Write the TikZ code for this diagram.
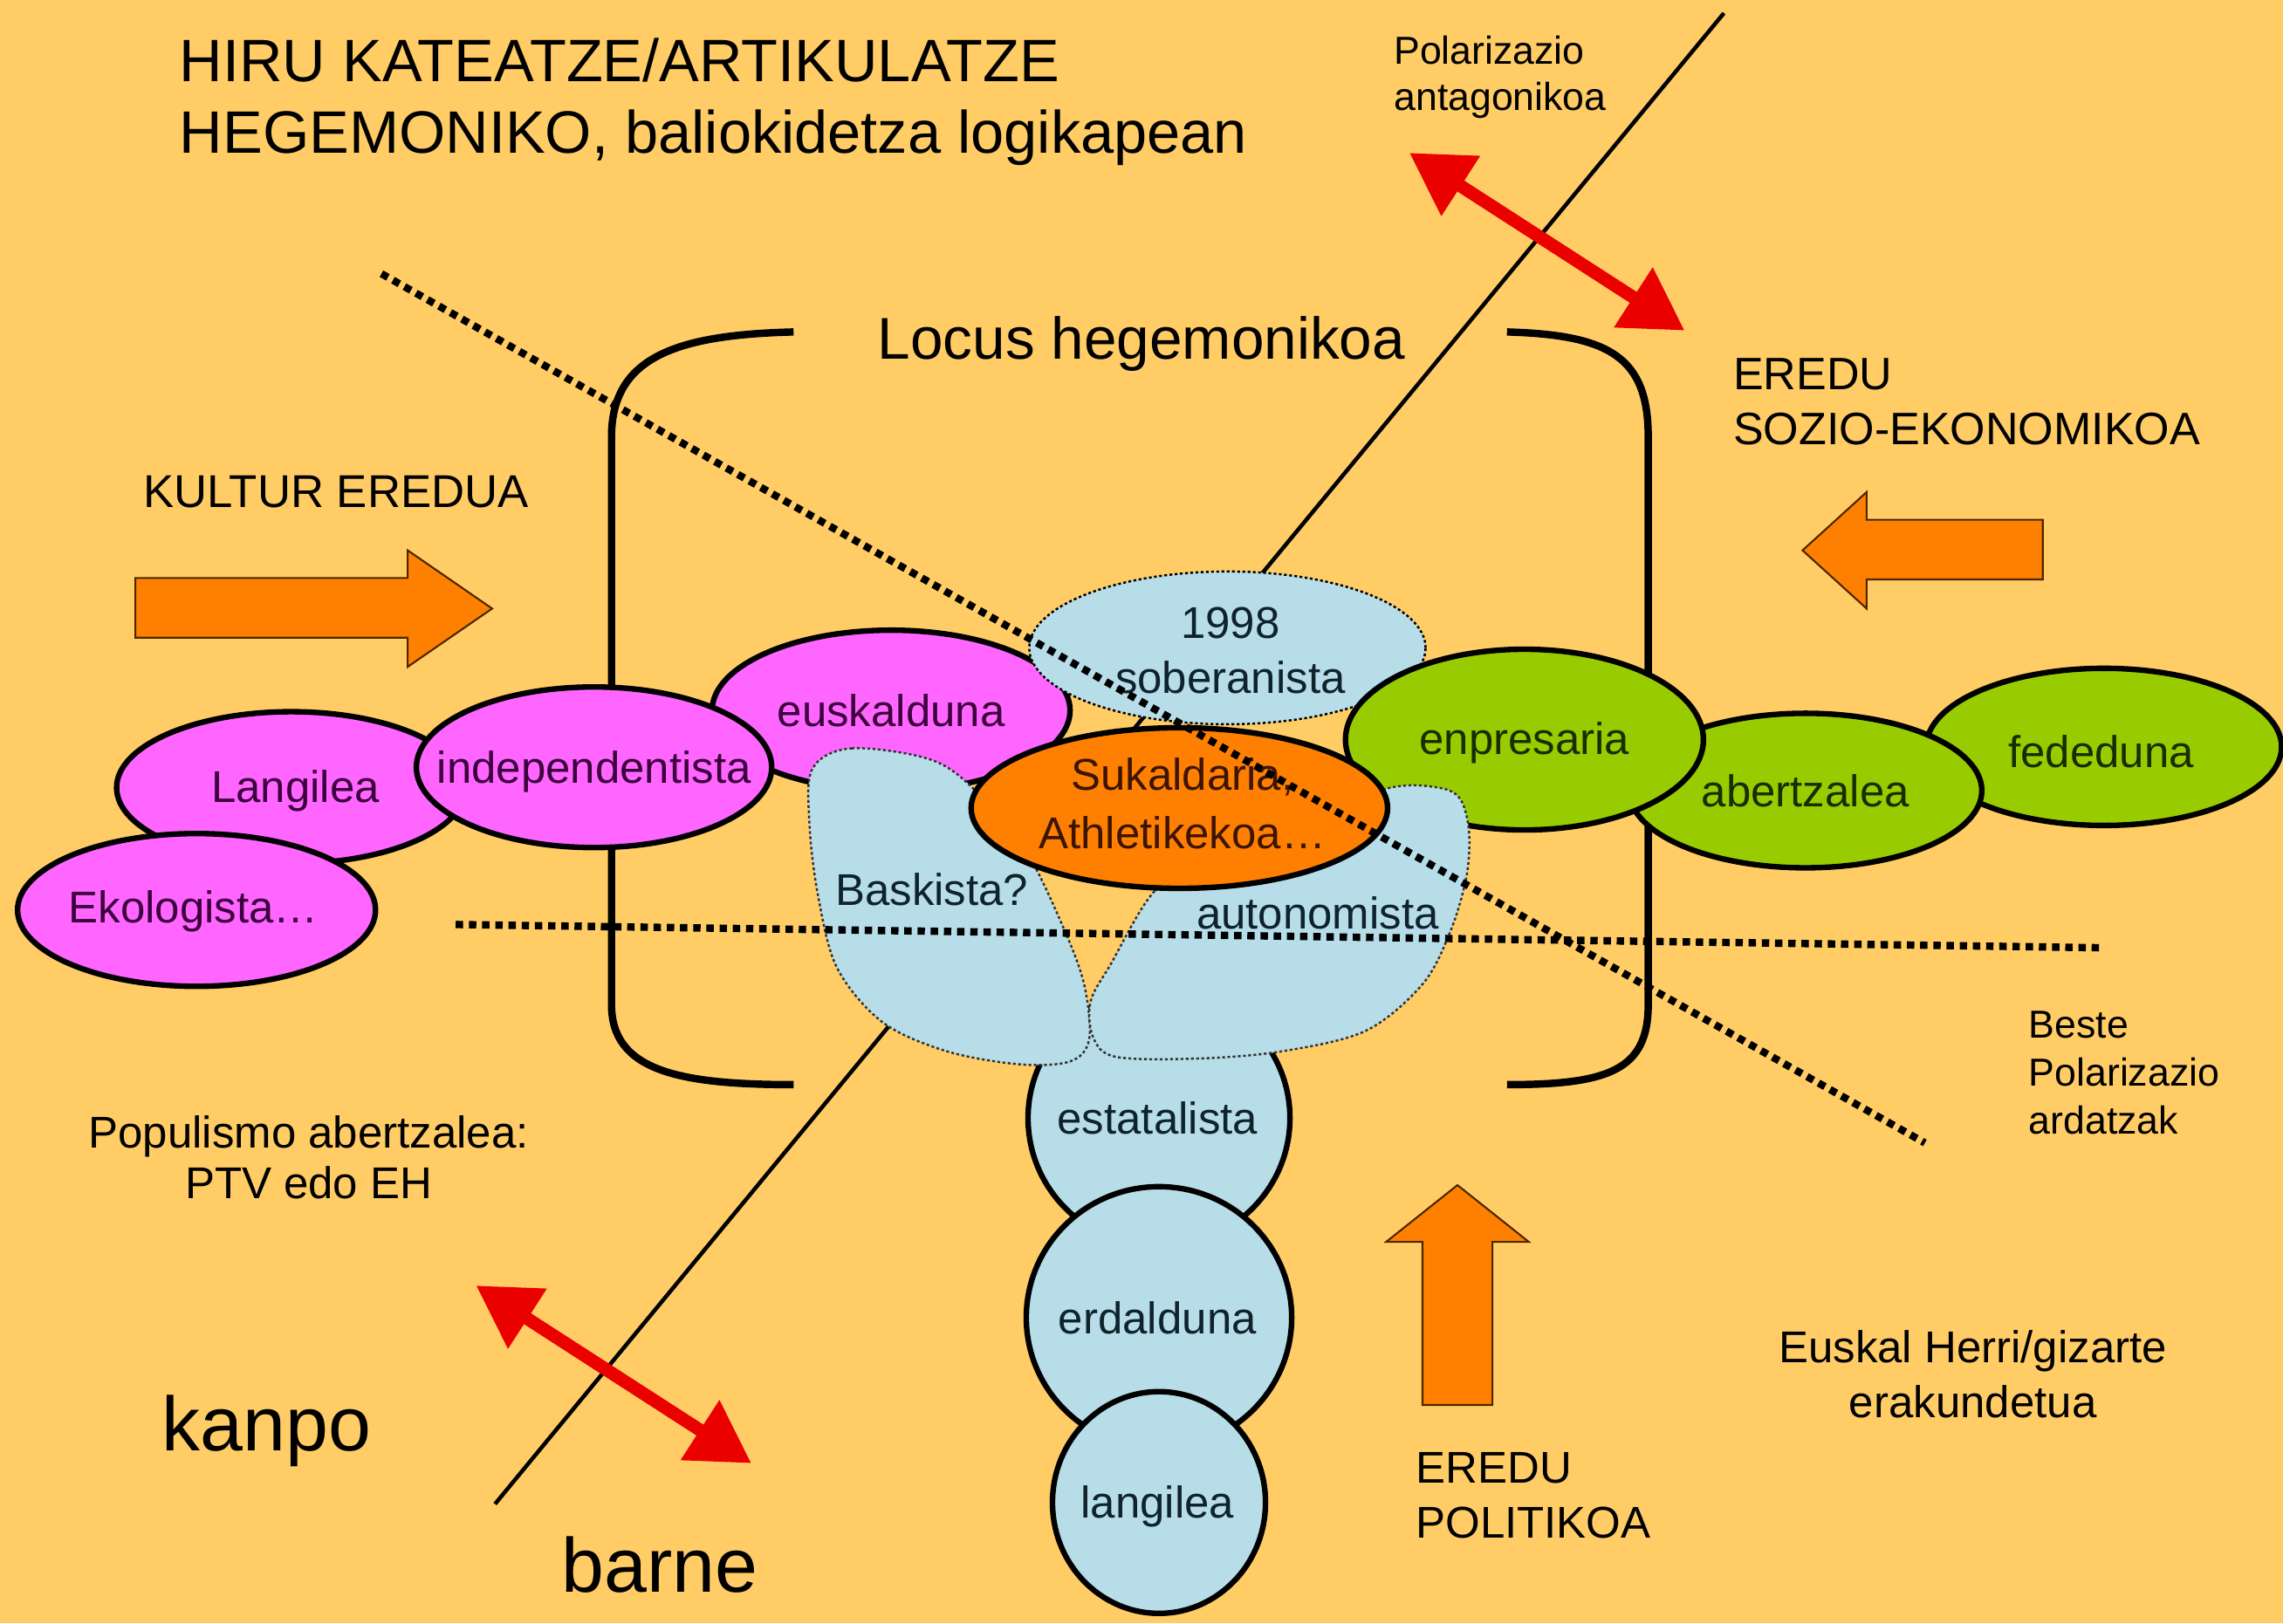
\documentclass[tikz,border=0pt]{standalone}
\usepackage{fontspec}
\setmainfont{Liberation Sans}
\usetikzlibrary{shapes.geometric,arrows.meta,calc}
\definecolor{bgorange}{RGB}{255,204,102}
\definecolor{pinkfill}{RGB}{255,102,255}
\definecolor{bluefill}{RGB}{183,221,232}
\definecolor{greenfill}{RGB}{153,204,0}
\definecolor{orangefill}{RGB}{255,128,0}
\definecolor{redarrow}{RGB}{235,0,0}
\definecolor{pinktext}{RGB}{60,0,60}
\definecolor{greentext}{RGB}{25,45,0}
\definecolor{bluetext}{RGB}{15,35,45}
\definecolor{browntext}{RGB}{60,20,0}
\tikzset{
  ell/.style 2 args={
      ellipse,
      draw,
      line width=1.8pt,
      inner sep=0pt,
      minimum width=#1,
      minimum height=#2
  },
  pinkell/.style 2 args={ell={#1}{#2}, fill=pinkfill},
  greenell/.style 2 args={ell={#1}{#2}, fill=greenfill},
  blueell/.style 2 args={ell={#1}{#2}, fill=bluefill},
  blob/.style={
      fill=bluefill,
      draw=black!80,
      line width=0.7pt,
      dash pattern=on 0.9pt off 0.8pt
  },
  lbl/.style={font=\fontsize{14.5pt}{18pt}\selectfont, inner sep=0pt, align=center},
  big/.style={font=\fontsize{19.5pt}{23.6pt}\selectfont, inner sep=0pt, align=left},
  small/.style={font=\fontsize{12.7pt}{15pt}\selectfont, inner sep=0pt, align=left},
  huge/.style={font=\fontsize{25pt}{30pt}\selectfont, inner sep=0pt},
  bracket/.style={line width=2.4pt},
  dotline/.style={line width=2.4pt, dash pattern=on 2.4pt off 1.9pt},
  polar/.style={
      redarrow,
      line width=4.2pt,
      {Triangle[length=0.7cm,width=0.78cm]}-{Triangle[length=0.7cm,width=0.78cm]}
  },
  block/.style={fill=orangefill, draw=black!70!orangefill, line width=0.6pt}
}

\begin{document}
\begin{tikzpicture}[x=0.016684cm, y=-0.016684cm]
    \fill[bgorange] (0,0) rectangle (1568,1115);
    \useasboundingbox (0,0) rectangle (1568,1115);

    % axis of antagonistic polarization
    \coordinate (axtop) at (1184,9);
    \coordinate (axbot) at (340,1033);
    \draw[line width=1.3pt] (axtop) -- (axbot);

    % hegemonic locus brackets
    \draw[bracket] (545,228) .. controls (465,230) and (420,245) .. (420,300)
        -- (420,690) .. controls (420,735) and (465,745) .. (545,745);
    \draw[bracket] (1035,228) .. controls (1105,230) and (1132,245) .. (1132,300)
        -- (1132,690) .. controls (1132,735) and (1105,745) .. (1035,745);

    % texts
    \node[big, anchor=west] (title) at (123,70)
        {HIRU KATEATZE/ARTIKULATZE\\HEGEMONIKO, baliokidetza logikapean};
    \node[small, anchor=west] (polartxt) at (957,53) {Polarizazio\\antagonikoa};
    \node[big, font=\fontsize{19.2pt}{23.6pt}\selectfont] (locus) at (784,236) {Locus hegemonikoa};
    \node[lbl, align=left, anchor=west, font=\fontsize{14.8pt}{18pt}\selectfont]
        (sozio) at (1190,276) {EREDU\\SOZIO-EKONOMIKOA};
    \node[lbl, anchor=west, font=\fontsize{15pt}{18pt}\selectfont] (kultur) at (98,338) {KULTUR EREDUA};
    \node[small, anchor=west, font=\fontsize{12.7pt}{15.6pt}\selectfont]
        (beste) at (1393,737) {Beste\\Polarizazio\\ardatzak};
    \node[lbl, font=\fontsize{14.5pt}{16.6pt}\selectfont]
        (populismo) at (212,795) {Populismo abertzalea:\\PTV edo EH};
    \node[huge] (kanpo) at (183,983) {kanpo};
    \node[huge] (barne) at (453,1075) {barne};
    \node[lbl] (euskalherri) at (1355,944) {Euskal Herri/gizarte\\erakundetua};
    \node[lbl, align=left, anchor=west] (politiko) at (972,1027) {EREDU\\POLITIKOA};

    % cultural chain
    \node[pinkell={4.00cm}{1.74cm}] (langilea) at (200,541) {};
    \node[pinkell={4.10cm}{1.75cm}] (ekologista) at (135,625) {};
    \node[pinkell={4.10cm}{1.84cm}] (euskalduna) at (612,488) {};
    \node[pinkell={4.07cm}{1.84cm}] (independentista) at (408,527) {};
    \node[ell={4.54cm}{1.75cm}, fill=bluefill, line width=0.7pt,
        dash pattern=on 0.9pt off 0.8pt] (soberanista) at (843,445) {};

    % socio-economic chain
    \node[greenell={4.07cm}{1.80cm}] (fededuna) at (1445,513) {};
    \node[greenell={4.04cm}{1.77cm}] (abertzalea) at (1240,543) {};
    \node[greenell={4.10cm}{2.07cm}] (enpresaria) at (1047,508) {};

    % political chain
    \node[blueell={3.00cm}{2.95cm}] (estatalista) at (796,768) {};
    \node[blueell={3.04cm}{3.00cm}] (erdalduna) at (796,905) {};
    \node[blueell={2.44cm}{2.54cm}] (langileb) at (796,1032) {};

    \draw[blob] plot[smooth cycle, tension=0.55] coordinates {
        (558,528) (585,514) (640,522) (672,545) (705,585) (732,641)
        (745,678) (748,714) (735,729) (700,731) (650,722) (606,702)
        (575,665) (562,616) (556,567)};
    \draw[blob] plot[smooth cycle, tension=0.55] coordinates {
        (830,590) (793,612) (763,662) (749,688) (751,713) (767,726)
        (824,727) (881,722) (938,708) (977,676) (996,640) (1007,603)
        (1009,572) (1003,549) (988,541) (955,541) (900,560)};

    \node[ell={4.77cm}{1.84cm}, fill=orangefill] (sukaldaria) at (810,555) {};

    % chain labels
    \node[lbl, text=pinktext] (langilea-t) at (203,543) {Langilea};
    \node[lbl, text=pinktext] (ekologista-t) at (133,626) {Ekologista…};
    \node[lbl, text=pinktext] (independentista-t) at (408,530) {independentista};
    \node[lbl, text=pinktext] (euskalduna-t) at (612,488) {euskalduna};
    \node[lbl, text=bluetext, font=\fontsize{14.5pt}{18pt}\selectfont]
        (soberanista-t) at (845,447) {1998\\soberanista};
    \node[lbl, text=greentext] (enpresaria-t) at (1047,510) {enpresaria};
    \node[lbl, text=greentext] (abertzalea-t) at (1240,543) {abertzalea};
    \node[lbl, text=greentext] (fededuna-t) at (1443,516) {fededuna};
    \node[lbl, text=browntext, font=\fontsize{14.5pt}{19pt}\selectfont]
        (sukaldaria-t) at (812,552) {Sukaldaria,\\Athletikekoa…};
    \node[lbl, text=bluetext] (baskista-t) at (640,611) {Baskista?};
    \node[lbl, text=bluetext] (autonomista-t) at (905,627) {autonomista};
    \node[lbl, text=bluetext] (estatalista-t) at (795,768) {estatalista};
    \node[lbl, text=bluetext] (erdalduna-t) at (795,905) {erdalduna};
    \node[lbl, text=bluetext] (langileb-t) at (795,1035) {langilea};

    % other polarization axes
    \coordinate (dtop) at (262,188);
    \coordinate (dbot) at (1322,785);
    \coordinate (hleft) at (313,635);
    \coordinate (hright) at (1445,651);
    \draw[dotline] (dtop) -- (dbot);
    \draw[dotline] (hleft) -- (hright);

    % polarization arrows
    \coordinate (pa1) at (968,105);
    \coordinate (pa2) at (1157,227);
    \coordinate (pb1) at (327,883);
    \coordinate (pb2) at (516,1005);
    \draw[polar] (pa1) -- (pa2);
    \draw[polar] (pb1) -- (pb2);

    % model arrows
    \draw[block] (93,397) -- (280,397) -- (280,378) -- (338,418) -- (280,458)
        -- (280,438) -- (93,438) -- cycle;
    \draw[block] (1403,357) -- (1282,357) -- (1282,338) -- (1238,378)
        -- (1282,418) -- (1282,398) -- (1403,398) -- cycle;
    \draw[block] (977,965) -- (977,853) -- (952,853) -- (1001,814)
        -- (1050,853) -- (1025,853) -- (1025,965) -- cycle;
\end{tikzpicture}
\end{document}
